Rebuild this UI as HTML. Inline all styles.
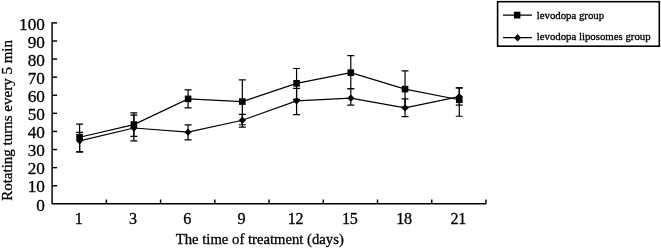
<!DOCTYPE html><html><head><meta charset="utf-8"><style>html,body{margin:0;padding:0;background:#fff}svg{display:block;filter:grayscale(1)}text{font-family:"Liberation Serif",serif;fill:#000;stroke:#000;stroke-width:0.3px}</style></head><body>
<svg width="661" height="249" viewBox="0 0 661 249">
<rect width="661" height="249" fill="#fff"/>
<g stroke="#000" stroke-width="1.45" fill="none">
<path d="M52.1 22.299999999999997V203.8H486.0"/>
<path d="M52.1 185.71h5"/>
<path d="M52.1 167.62h5"/>
<path d="M52.1 149.53h5"/>
<path d="M52.1 131.44h5"/>
<path d="M52.1 113.35h5"/>
<path d="M52.1 95.26h5"/>
<path d="M52.1 77.17h5"/>
<path d="M52.1 59.08h5"/>
<path d="M52.1 40.99h5"/>
<path d="M52.1 22.90h5"/>
<path d="M106.34 203.8v-4.3"/>
<path d="M160.57 203.8v-4.3"/>
<path d="M214.81 203.8v-4.3"/>
<path d="M269.05 203.8v-4.3"/>
<path d="M323.29 203.8v-4.3"/>
<path d="M377.52 203.8v-4.3"/>
<path d="M431.76 203.8v-4.3"/>
<path d="M486.00 203.8v-4.3"/>
</g>
<text x="44.9" y="210.50" font-size="17.2" text-anchor="end" letter-spacing="0">0</text>
<text x="44.9" y="192.41" font-size="17.2" text-anchor="end" letter-spacing="0">10</text>
<text x="44.9" y="174.32" font-size="17.2" text-anchor="end" letter-spacing="0">20</text>
<text x="44.9" y="156.23" font-size="17.2" text-anchor="end" letter-spacing="0">30</text>
<text x="44.9" y="138.14" font-size="17.2" text-anchor="end" letter-spacing="0">40</text>
<text x="44.9" y="120.05" font-size="17.2" text-anchor="end" letter-spacing="0">50</text>
<text x="44.9" y="101.96" font-size="17.2" text-anchor="end" letter-spacing="0">60</text>
<text x="44.9" y="83.87" font-size="17.2" text-anchor="end" letter-spacing="0">70</text>
<text x="44.9" y="65.78" font-size="17.2" text-anchor="end" letter-spacing="0">80</text>
<text x="44.9" y="47.69" font-size="17.2" text-anchor="end" letter-spacing="0">90</text>
<text x="44.9" y="29.60" font-size="17.2" text-anchor="end" letter-spacing="0">100</text>
<text transform="translate(78.62 224.3) scale(0.94 1.02)" font-size="17.2" text-anchor="middle" letter-spacing="-0.2">1</text>
<text transform="translate(132.86 224.3) scale(0.94 1.02)" font-size="17.2" text-anchor="middle" letter-spacing="-0.2">3</text>
<text transform="translate(187.09 224.3) scale(0.94 1.02)" font-size="17.2" text-anchor="middle" letter-spacing="-0.2">6</text>
<text transform="translate(241.33 224.3) scale(0.94 1.02)" font-size="17.2" text-anchor="middle" letter-spacing="-0.2">9</text>
<text transform="translate(295.57 224.3) scale(0.94 1.02)" font-size="17.2" text-anchor="middle" letter-spacing="-0.2">12</text>
<text transform="translate(349.81 224.3) scale(0.94 1.02)" font-size="17.2" text-anchor="middle" letter-spacing="-0.2">15</text>
<text transform="translate(404.04 224.3) scale(0.94 1.02)" font-size="17.2" text-anchor="middle" letter-spacing="-0.2">18</text>
<text transform="translate(458.28 224.3) scale(0.94 1.02)" font-size="17.2" text-anchor="middle" letter-spacing="-0.2">21</text>
<text x="259.8" y="243.7" font-size="14.7" text-anchor="middle">The time of treatment (days)</text>
<text transform="translate(11.9 120.4) rotate(-90)" font-size="15" text-anchor="middle">Rotating turns every 5 min</text>
<polyline points="79.62,137.23 133.86,124.57 188.09,98.88 242.33,101.59 296.57,83.32 350.81,72.65 405.04,89.11 459.28,99.78" fill="none" stroke="#000" stroke-width="1.2"/>
<path d="M79.62 124.20V151.88M76.12 124.20h7M76.12 151.88h7" stroke="#000" stroke-width="1.2" fill="none"/>
<path d="M133.86 112.81V136.32M130.36 112.81h7M130.36 136.32h7" stroke="#000" stroke-width="1.2" fill="none"/>
<path d="M188.09 89.83V107.92M184.59 89.83h7M184.59 107.92h7" stroke="#000" stroke-width="1.2" fill="none"/>
<path d="M242.33 79.88V124.75M238.83 79.88h7M238.83 124.75h7" stroke="#000" stroke-width="1.2" fill="none"/>
<path d="M296.57 68.49V99.42M293.07 68.49h7M293.07 99.42h7" stroke="#000" stroke-width="1.2" fill="none"/>
<path d="M350.81 55.64V88.75M347.31 55.64h7M347.31 88.75h7" stroke="#000" stroke-width="1.2" fill="none"/>
<path d="M405.04 70.84V107.02M401.54 70.84h7M401.54 107.02h7" stroke="#000" stroke-width="1.2" fill="none"/>
<path d="M459.28 87.84V116.24M455.78 87.84h7M455.78 116.24h7" stroke="#000" stroke-width="1.2" fill="none"/>
<rect x="76.32" y="133.93" width="6.6" height="6.6" fill="#000"/>
<rect x="130.56" y="121.27" width="6.6" height="6.6" fill="#000"/>
<rect x="184.79" y="95.58" width="6.6" height="6.6" fill="#000"/>
<rect x="239.03" y="98.29" width="6.6" height="6.6" fill="#000"/>
<rect x="293.27" y="80.02" width="6.6" height="6.6" fill="#000"/>
<rect x="347.51" y="69.35" width="6.6" height="6.6" fill="#000"/>
<rect x="401.74" y="85.81" width="6.6" height="6.6" fill="#000"/>
<rect x="455.98" y="96.48" width="6.6" height="6.6" fill="#000"/>
<polyline points="79.62,140.85 133.86,128.00 188.09,132.16 242.33,120.22 296.57,100.87 350.81,98.15 405.04,107.92 459.28,96.71" fill="none" stroke="#000" stroke-width="1.2"/>
<path d="M79.62 132.34V151.88M76.12 132.34h7M76.12 151.88h7" stroke="#000" stroke-width="1.2" fill="none"/>
<path d="M133.86 115.16V140.85M130.36 115.16h7M130.36 140.85h7" stroke="#000" stroke-width="1.2" fill="none"/>
<path d="M188.09 124.93V139.94M184.59 124.93h7M184.59 139.94h7" stroke="#000" stroke-width="1.2" fill="none"/>
<path d="M242.33 114.44V127.10M238.83 114.44h7M238.83 127.10h7" stroke="#000" stroke-width="1.2" fill="none"/>
<path d="M296.57 88.39V114.62M293.07 88.39h7M293.07 114.62h7" stroke="#000" stroke-width="1.2" fill="none"/>
<path d="M350.81 88.75V105.03M347.31 88.75h7M347.31 105.03h7" stroke="#000" stroke-width="1.2" fill="none"/>
<path d="M405.04 98.88V116.61M401.54 98.88h7M401.54 116.61h7" stroke="#000" stroke-width="1.2" fill="none"/>
<path d="M459.28 87.84V105.03M455.78 87.84h7M455.78 105.03h7" stroke="#000" stroke-width="1.2" fill="none"/>
<path d="M79.62 137.15l3.6 3.7l-3.6 3.7l-3.6 -3.7z" fill="#000"/>
<path d="M133.86 124.30l3.6 3.7l-3.6 3.7l-3.6 -3.7z" fill="#000"/>
<path d="M188.09 128.46l3.6 3.7l-3.6 3.7l-3.6 -3.7z" fill="#000"/>
<path d="M242.33 116.52l3.6 3.7l-3.6 3.7l-3.6 -3.7z" fill="#000"/>
<path d="M296.57 97.17l3.6 3.7l-3.6 3.7l-3.6 -3.7z" fill="#000"/>
<path d="M350.81 94.45l3.6 3.7l-3.6 3.7l-3.6 -3.7z" fill="#000"/>
<path d="M405.04 104.22l3.6 3.7l-3.6 3.7l-3.6 -3.7z" fill="#000"/>
<path d="M459.28 93.01l3.6 3.7l-3.6 3.7l-3.6 -3.7z" fill="#000"/>
<rect x="497.6" y="1.7" width="161.7" height="44.5" fill="#fff" stroke="#000" stroke-width="1.6"/>
<path d="M503 15.2h29M503 37.7h29" stroke="#000" stroke-width="1.2"/>
<rect x="513.9" y="11.7" width="6.5" height="6.8" fill="#000"/>
<path d="M517.6 33.9l3.5 3.8l-3.5 3.8l-3.5 -3.8z" fill="#000"/>
<text x="536.7" y="18.9" font-size="10.8">levodopa group</text>
<text x="536.7" y="40.1" font-size="10.8">levodopa liposomes group</text>
</svg></body></html>
